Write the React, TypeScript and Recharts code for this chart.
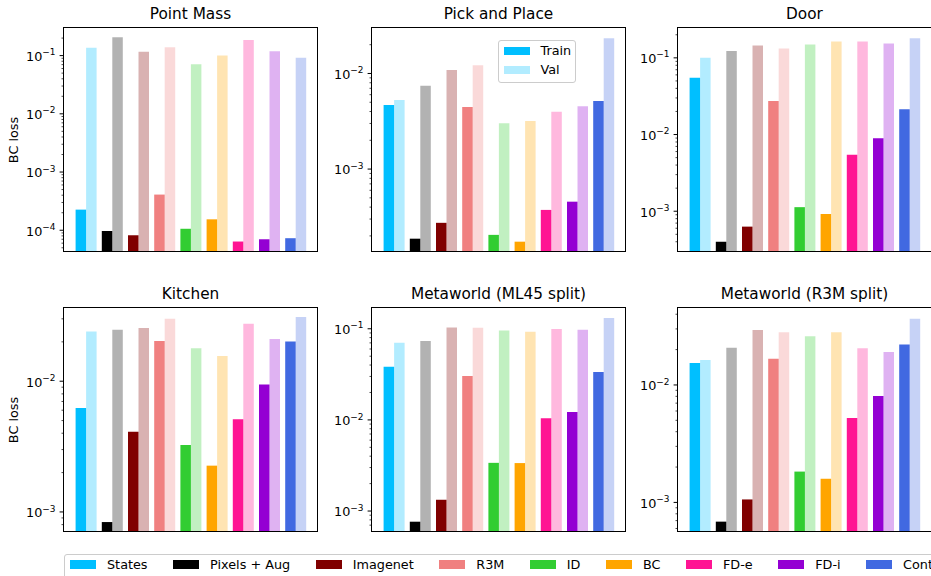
import React from 'react';
import { BarChart, Bar, XAxis, YAxis, Cell } from 'recharts';

const FONT = '"DejaVu Sans", "Liberation Sans", sans-serif';

// methods and their colours (train bars full colour, val bars at 30% alpha)
const methods = ['States', 'Pixels + Aug', 'Imagenet', 'R3M', 'ID', 'BC', 'FD-e', 'FD-i', 'Contrastive'];
const methodColors = ['#00BFFF', '#000000', '#800000', '#F08080', '#32CD32', '#FFA500', '#FF1493', '#9400D3', '#4169E1'];

// BC loss values
const pointMassTrain = [2.26e-4, 9.7e-5, 8.2e-5, 4.1e-4, 1.06e-4, 1.54e-4, 6.4e-5, 7.0e-5, 7.3e-5];
const pointMassVal = [0.137, 0.206, 0.117, 0.139, 0.071, 0.1, 0.185, 0.119, 0.092];

const pickPlaceTrain = [4.67e-3, 1.87e-4, 2.74e-4, 4.46e-3, 2.05e-4, 1.74e-4, 3.74e-4, 4.56e-4, 5.14e-3];
const pickPlaceVal = [5.27e-3, 7.43e-3, 0.0109, 0.0122, 3.01e-3, 3.19e-3, 3.98e-3, 4.53e-3, 0.0233];

const doorTrain = [0.055, 4.0e-4, 6.3e-4, 0.0274, 1.13e-3, 9.2e-4, 5.45e-3, 8.97e-3, 0.0213];
const doorVal = [0.1, 0.123, 0.145, 0.132, 0.149, 0.163, 0.163, 0.154, 0.18];

const kitchenTrain = [6.24e-3, 8.37e-4, 4.11e-3, 0.0203, 3.25e-3, 2.26e-3, 5.11e-3, 9.43e-3, 0.0201];
const kitchenVal = [0.024, 0.0248, 0.0255, 0.0301, 0.0179, 0.0156, 0.0275, 0.021, 0.031];

const ml45Train = [0.0384, 7.64e-4, 1.33e-3, 0.0303, 3.38e-3, 3.36e-3, 0.0104, 0.0122, 0.0336];
const ml45Val = [0.0703, 0.0733, 0.1035, 0.1026, 0.096, 0.0927, 0.0992, 0.0975, 0.131];

const r3mTrain = [0.01535, 6.86e-4, 1.06e-3, 0.0167, 1.83e-3, 1.59e-3, 5.22e-3, 8.07e-3, 0.0221];
const r3mVal = [0.0163, 0.0207, 0.0294, 0.0281, 0.026, 0.0281, 0.0205, 0.0191, 0.0367];

// y limits and major ticks per panel
const pointMassDomain = [4.4e-5, 0.298];
const pointMassTicks = [1e-4, 1e-3, 1e-2, 1e-1];
const pickPlaceDomain = [1.39e-4, 0.0299];
const pickPlaceTicks = [1e-3, 1e-2];
const doorDomain = [3.03e-4, 0.245];
const doorTicks = [1e-3, 1e-2, 1e-1];
const kitchenDomain = [7.15e-4, 0.0363];
const kitchenTicks = [1e-3, 1e-2];
const ml45Domain = [6.04e-4, 0.169];
const ml45Ticks = [1e-3, 1e-2, 1e-1];
const r3mDomain = [5.71e-4, 0.0452];
const r3mTicks = [1e-3, 1e-2];

const minorMultipliers = [2, 3, 4, 5, 6, 7, 8, 9];

const PLOT_W = 253;
const PLOT_H = 223;
const AXIS_W = 60;
const PAD = 6;

const panels = [
  { title: 'Point Mass', train: pointMassTrain, val: pointMassVal, domain: pointMassDomain, majors: pointMassTicks, left: 64, top: 28 },
  { title: 'Pick and Place', train: pickPlaceTrain, val: pickPlaceVal, domain: pickPlaceDomain, majors: pickPlaceTicks, left: 372, top: 28 },
  { title: 'Door', train: doorTrain, val: doorVal, domain: doorDomain, majors: doorTicks, left: 678, top: 28 },
  { title: 'Kitchen', train: kitchenTrain, val: kitchenVal, domain: kitchenDomain, majors: kitchenTicks, left: 64, top: 308 },
  { title: 'Metaworld (ML45 split)', train: ml45Train, val: ml45Val, domain: ml45Domain, majors: ml45Ticks, left: 372, top: 308 },
  { title: 'Metaworld (R3M split)', train: r3mTrain, val: r3mVal, domain: r3mDomain, majors: r3mTicks, left: 678, top: 308 },
];

function allTicks(domain: number[]) {
  const out: number[] = [];
  const lo = Math.floor(Math.log10(domain[0]));
  const hi = Math.floor(Math.log10(domain[1]));
  for (let e = lo; e <= hi; e++) {
    const base = Math.pow(10, e);
    if (base >= domain[0] && base <= domain[1]) out.push(base);
    minorMultipliers.forEach((m) => {
      const v = m * base;
      if (v >= domain[0] && v <= domain[1]) out.push(v);
    });
  }
  return out.sort((a, b) => a - b);
}

const LogTick = (props: any) => {
  const { x, y, payload, majors } = props;
  const v = payload.value;
  const major = majors.some((m: number) => Math.abs(m - v) / m < 1e-6);
  const exp = Math.round(Math.log10(v));
  return (
    <g>
      <line x1={x - (major ? 4.4 : 2.5)} x2={x} y1={y} y2={y} stroke="#000" strokeWidth={major ? 1 : 0.7} />
      {major && (
        <text x={x - 8.5} y={y + 5.4} textAnchor="end" fontFamily={FONT} fontSize={12.8} fill="#000">
          <tspan>10</tspan>
          <tspan dy={-5.8} fontSize={8.96}>{'\u2212' + Math.abs(exp)}</tspan>
        </text>
      )}
    </g>
  );
};

const Panel = ({ p }: { p: (typeof panels)[number] }) => {
  const data = methods.map((name, i) => ({ name, train: p.train[i], val: p.val[i] }));
  return (
    <>
      <div
        style={{
          position: 'absolute',
          left: p.left,
          width: PLOT_W,
          top: p.top - 21,
          textAlign: 'center',
          fontSize: 15.3,
          lineHeight: '15.3px',
          color: '#000',
          whiteSpace: 'nowrap',
        }}
      >
        {p.title}
      </div>
      <div style={{ position: 'absolute', left: p.left - AXIS_W, top: p.top - PAD }}>
        <BarChart
          width={AXIS_W + PLOT_W}
          height={PLOT_H + 2 * PAD}
          data={data}
          margin={{ top: PAD, right: 0, bottom: PAD, left: 0 }}
          barGap={0}
          barSize={10.5}
        >
          <XAxis dataKey="name" hide padding={{ left: 8.6, right: 8.6 }} />
          <YAxis
            scale="log"
            type="number"
            domain={p.domain}
            allowDataOverflow
            ticks={allTicks(p.domain)}
            interval={0}
            width={AXIS_W}
            axisLine={false}
            tickLine={false}
            tickSize={0}
            tickMargin={0}
            tick={(tp: any) => <LogTick {...tp} majors={p.majors} />}
          />
          <Bar dataKey="train" name="Train" isAnimationActive={false}>
            {data.map((d, i) => (
              <Cell key={d.name} fill={methodColors[i]} />
            ))}
          </Bar>
          <Bar dataKey="val" name="Val" isAnimationActive={false}>
            {data.map((d, i) => (
              <Cell key={d.name} fill={methodColors[i]} fillOpacity={0.3} />
            ))}
          </Bar>
        </BarChart>
      </div>
      <div
        style={{
          position: 'absolute',
          left: p.left - 1,
          top: p.top - 1,
          width: PLOT_W + 2,
          height: PLOT_H + 2,
          border: '1px solid #000',
          boxSizing: 'border-box',
          pointerEvents: 'none',
        }}
      />
    </>
  );
};

const Swatch = ({ color, opacity = 1, w = 26, h = 8.3 }: { color: string; opacity?: number; w?: number; h?: number }) => (
  <span style={{ display: 'inline-block', width: w, height: h, background: color, opacity, marginRight: 11 }} />
);

export default function App() {
  return (
    <div
      style={{
        position: 'absolute',
        left: 0,
        top: 0,
        width: 931,
        height: 576,
        overflow: 'hidden',
        background: '#fff',
        fontFamily: FONT,
      }}
    >
      {panels.map((p) => (
        <Panel key={p.title} p={p} />
      ))}

      {['BC loss', 'BC loss'].map((t, i) => (
        <div
          key={i}
          style={{
            position: 'absolute',
            left: 13.5,
            top: (i === 0 ? 28 : 308) + PLOT_H / 2,
            transform: 'translate(-50%, -50%) rotate(-90deg)',
            fontSize: 12.8,
            whiteSpace: 'nowrap',
            lineHeight: '12.8px',
          }}
        >
          {t}
        </div>
      ))}

      {/* Train / Val legend inside Pick and Place */}
      <div
        style={{
          position: 'absolute',
          left: 498,
          top: 40,
          width: 78,
          height: 43,
          border: '1px solid #ccc',
          borderRadius: 3,
          background: 'rgba(255,255,255,0.8)',
          boxSizing: 'border-box',
          fontSize: 12.8,
        }}
      >
        {['Train', 'Val'].map((t, i) => (
          <div
            key={t}
            style={{ position: 'absolute', left: 4.5, top: (i === 0 ? 10 : 29.3) - 7, height: 14, display: 'flex', alignItems: 'center', lineHeight: '14px' }}
          >
            <Swatch color={methodColors[0]} opacity={i === 0 ? 1 : 0.3} />
            {t}
          </div>
        ))}
      </div>

      {/* method legend at the bottom */}
      <div
        style={{
          position: 'absolute',
          left: 64,
          top: 554,
          width: 1000,
          height: 40,
          border: '1px solid #ccc',
          borderRadius: 3,
          boxSizing: 'border-box',
          display: 'flex',
          alignItems: 'flex-start',
          gap: 25.5,
          paddingLeft: 5,
          paddingTop: 2.5,
          fontSize: 12.8,
          whiteSpace: 'nowrap',
        }}
      >
        {methods.map((m, i) => (
          <div key={m} style={{ display: 'flex', alignItems: 'center', height: 14, lineHeight: '14px' }}>
            <Swatch color={methodColors[i]} />
            {m}
          </div>
        ))}
      </div>
    </div>
  );
}
